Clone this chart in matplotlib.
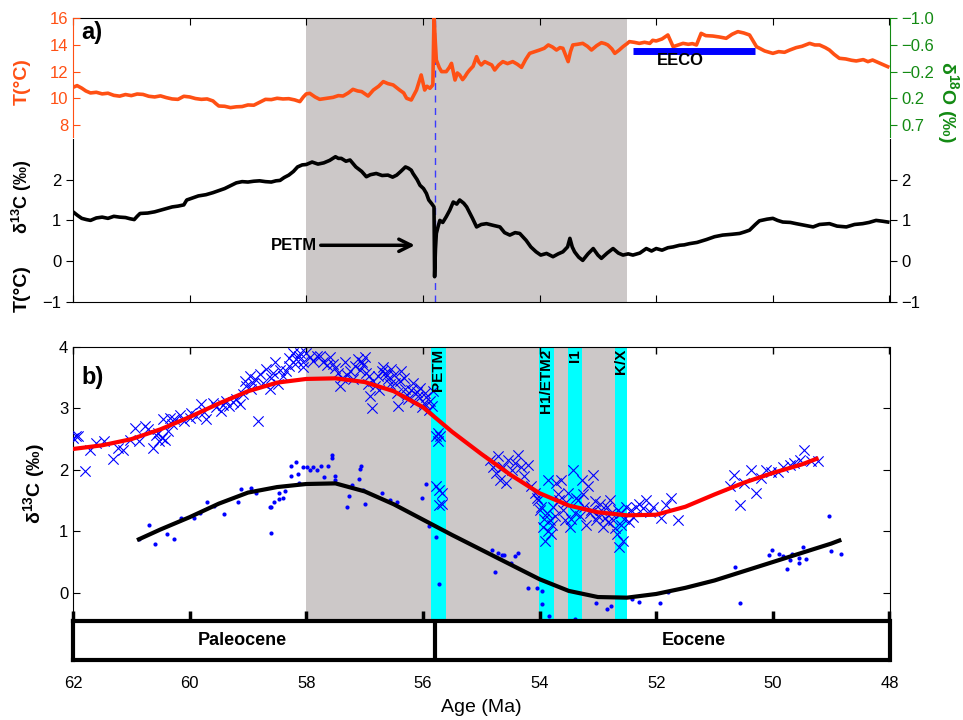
import numpy as np
import matplotlib
matplotlib.use("Agg")
import matplotlib.pyplot as plt

plt.rcParams['font.family'] = ['Liberation Sans', 'DejaVu Sans']
plt.rcParams['mathtext.fontset'] = 'custom'
plt.rcParams['mathtext.rm'] = 'Liberation Sans'
plt.rcParams['mathtext.bf'] = 'Liberation Sans:bold'

# ---------------- panel a data ----------------
# temperature (left, orange) / d18O (right, green)
t_age = [62.0, 61.93, 61.85, 61.78, 61.7, 61.6, 61.5, 61.4, 61.3, 61.2, 61.1, 61.0, 60.9, 60.8,
         60.7, 60.6, 60.5, 60.4, 60.3, 60.2, 60.1, 60.0, 59.9, 59.8, 59.7, 59.6, 59.55, 59.5,
         59.4, 59.3, 59.2, 59.1, 59.0, 58.9, 58.8, 58.7, 58.6, 58.5, 58.4, 58.3, 58.2, 58.11,
         58.05, 58.0, 57.94, 57.85, 57.77, 57.65, 57.54, 57.45, 57.37, 57.28, 57.2, 57.12,
         57.05, 56.94, 56.85, 56.76, 56.68, 56.6, 56.51, 56.4, 56.33, 56.28, 56.2, 56.11,
         56.03, 55.97, 55.93, 55.88, 55.83, 55.81, 55.79, 55.77, 55.72, 55.68, 55.6, 55.55,
         55.51, 55.45, 55.41, 55.37, 55.32, 55.28, 55.24, 55.2, 55.14, 55.08, 55.04, 55.0,
         54.94, 54.88, 54.82, 54.77, 54.7, 54.63, 54.55, 54.46, 54.38, 54.31, 54.24, 54.17,
         54.08, 54.0, 53.92, 53.85, 53.78, 53.71, 53.65, 53.6, 53.51, 53.47, 53.43, 53.35,
         53.26, 53.18, 53.11, 53.02, 52.94, 52.88, 52.83, 52.76, 52.71, 52.64, 52.57, 52.5,
         52.46, 52.38, 52.29, 52.2, 52.11, 52.06, 52.0, 51.9, 51.8, 51.71, 51.62, 51.54,
         51.45, 51.38, 51.31, 51.23, 51.15, 51.03, 50.92, 50.8, 50.7, 50.6, 50.5, 50.4,
         50.28, 50.14, 50.0, 49.9, 49.8, 49.71, 49.6, 49.5, 49.37, 49.28, 49.2, 49.1, 49.03,
         48.95, 48.86, 48.75, 48.65, 48.57, 48.45, 48.37, 48.29, 48.15, 48.03]
t_val = [10.82, 10.95, 10.76, 10.55, 10.4, 10.45, 10.33, 10.38, 10.22, 10.16, 10.28, 10.2, 10.32, 10.29,
         10.15, 10.1, 10.18, 10.05, 9.95, 9.92, 10.15, 10.1, 9.98, 9.92, 9.95, 9.8, 9.6, 9.42,
         9.4, 9.3, 9.36, 9.38, 9.5, 9.48, 9.7, 9.92, 9.9, 10.0, 9.95, 9.97, 9.88, 9.75,
         10.1, 10.33, 10.37, 10.1, 9.92, 10.0, 10.07, 10.2, 10.17, 10.4, 10.67, 10.55,
         10.5, 10.17, 10.62, 10.9, 11.25, 11.1, 11.0, 10.62, 10.4, 10.0, 9.87, 10.62,
         11.75, 10.62, 10.9, 10.75, 11.0, 16.2, 14.4, 12.87, 12.3, 12.0, 12.0, 12.3,
         12.62, 11.37, 11.9, 11.75, 11.4, 11.62, 11.9, 12.12, 12.4, 13.12, 12.7, 12.5,
         12.75, 12.62, 12.5, 12.12, 12.5, 12.75, 12.6, 12.75, 12.55, 12.32, 12.9, 13.37,
         13.5, 13.62, 13.75, 14.0, 13.85, 13.62, 13.8, 13.75, 12.75, 13.5, 14.0, 14.05,
         14.12, 13.9, 13.62, 13.95, 14.17, 14.1, 14.0, 13.7, 13.37, 13.6, 13.87, 14.1,
         14.25, 14.2, 14.12, 14.2, 14.12, 14.35, 14.3, 14.45, 14.75, 13.87, 14.0, 14.12,
         14.05, 14.1, 14.0, 14.87, 14.7, 14.67, 14.6, 14.5, 14.8, 15.0, 14.9, 14.75,
         13.87, 13.55, 13.37, 13.5, 13.45, 13.62, 13.8, 13.9, 14.12, 14.0, 14.0, 13.8, 13.62,
         13.3, 13.0, 12.95, 12.85, 12.8, 12.9, 12.75, 12.87, 12.6, 12.37]

# benthic d13C (black)
c_age = [62.0, 61.92, 61.85, 61.77, 61.7, 61.6, 61.5, 61.4, 61.3, 61.2, 61.1, 61.02, 60.95, 60.9,
         60.85, 60.72, 60.6, 60.5, 60.4, 60.3, 60.2, 60.1, 60.05, 59.95, 59.85, 59.72, 59.6,
         59.5, 59.4, 59.3, 59.2, 59.1, 59.0, 58.9, 58.8, 58.7, 58.6, 58.52, 58.45, 58.38, 58.3,
         58.22, 58.15, 58.07, 58.0, 57.9, 57.8, 57.7, 57.6, 57.5, 57.45, 57.4, 57.32, 57.25,
         57.15, 57.05, 56.97, 56.9, 56.8, 56.7, 56.6, 56.52, 56.45, 56.38, 56.3, 56.25, 56.2,
         56.17, 56.1, 56.05, 55.99, 55.94, 55.9, 55.85, 55.81, 55.8, 55.785, 55.77, 55.74,
         55.71, 55.66, 55.6, 55.54, 55.48, 55.42, 55.37, 55.3, 55.25, 55.15, 55.08, 55.0,
         54.91, 54.8, 54.68, 54.6, 54.51, 54.42, 54.34, 54.23, 54.15, 54.06, 53.98, 53.88,
         53.77, 53.68, 53.6, 53.52, 53.48, 53.44, 53.4, 53.33, 53.26, 53.17, 53.08, 53.0,
         52.94, 52.84, 52.74, 52.65, 52.57, 52.48, 52.4, 52.28, 52.17, 52.08, 52.0, 51.9,
         51.8, 51.71, 51.6, 51.52, 51.43, 51.3, 51.14, 51.0, 50.86, 50.7, 50.57, 50.48, 50.4,
         50.3, 50.23, 50.1, 50.0, 49.92, 49.83, 49.7, 49.6, 49.45, 49.31, 49.2, 49.03, 48.9,
         48.74, 48.6, 48.46, 48.35, 48.23, 48.12, 48.03]
c_val = [1.21, 1.12, 1.05, 1.02, 1.0, 1.06, 1.08, 1.05, 1.1, 1.08, 1.07, 1.04, 1.02, 1.1,
         1.17, 1.18, 1.21, 1.25, 1.29, 1.33, 1.35, 1.38, 1.5, 1.55, 1.6, 1.63, 1.68,
         1.73, 1.78, 1.85, 1.92, 1.95, 1.94, 1.96, 1.97, 1.95, 1.94, 1.97, 1.98, 2.05, 2.11,
         2.2, 2.31, 2.36, 2.37, 2.43, 2.38, 2.41, 2.47, 2.56, 2.52, 2.52, 2.45, 2.48,
         2.31, 2.2, 2.07, 2.12, 2.15, 2.1, 2.11, 2.06, 2.11, 2.2, 2.31, 2.28, 2.23,
         2.15, 2.0, 1.86, 1.78, 1.66, 1.5, 1.41, 1.33, -0.38, 0.3, 0.68, 0.85,
         1.0, 0.95, 1.09, 1.25, 1.45, 1.4, 1.5, 1.42, 1.33, 1.05, 0.84, 0.9,
         0.92, 0.88, 0.84, 0.7, 0.64, 0.7, 0.68, 0.51, 0.35, 0.23, 0.15, 0.19,
         0.11, 0.18, 0.23, 0.35, 0.56, 0.35, 0.23, 0.1, 0.02, 0.18, 0.31, 0.15,
         0.07, 0.2, 0.31, 0.2, 0.15, 0.18, 0.15, 0.2, 0.31, 0.25, 0.31, 0.27,
         0.33, 0.35, 0.39, 0.4, 0.43, 0.46, 0.53, 0.6, 0.64, 0.66, 0.68, 0.72, 0.76,
         0.9, 0.99, 1.03, 1.05, 1.0, 0.96, 0.95, 0.92, 0.88, 0.84, 0.9, 0.92, 0.86,
         0.84, 0.9, 0.92, 0.95, 1.0, 0.98, 0.96]

a_ticks_T = [8, 10, 12, 14, 16]
a_ticks_O = ['0.7', '0.2', '\u22120.2', '\u22120.6', '\u22121.0']
a_ticks_C = [-1, 0, 1, 2]

# ---------------- panel b data ----------------
# crosses (upper record)
x_age = [62.0, 61.95, 61.91, 61.80, 61.71, 61.60, 61.46, 61.31, 61.23, 61.14, 61.03, 60.94, 60.86,
         60.77, 60.72, 60.63, 60.57, 60.55, 60.52, 60.48, 60.46, 60.43, 60.37, 60.34, 60.30, 60.26,
         60.17, 60.09, 60.0, 59.97, 59.89, 59.80, 59.75, 59.72, 59.60, 59.55, 59.46, 59.42, 59.37,
         59.32, 59.25, 59.20, 59.14, 59.09, 59.05, 59.03, 58.97, 58.95, 58.92, 58.88, 58.83, 58.80,
         58.74, 58.69, 58.63, 58.60, 58.57, 58.54, 58.49, 58.45, 58.40, 58.34, 58.30, 58.29, 58.23,
         58.20, 58.17, 58.12, 58.10, 58.06, 58.05, 58.00, 57.94, 57.88, 57.82, 57.76, 57.71, 57.65,
         57.60, 57.54, 57.50, 57.45, 57.42, 57.38, 57.34, 57.30, 57.25, 57.20, 57.17, 57.11, 57.08,
         57.05, 57.02, 56.99, 56.97, 56.94, 56.93, 56.91, 56.88, 56.85, 56.82, 56.77, 56.75, 56.71,
         56.68, 56.65, 56.62, 56.60, 56.56, 56.54, 56.50, 56.48, 56.45, 56.42, 56.40, 56.37, 56.33,
         56.31, 56.28, 56.25, 56.20, 56.17, 56.14, 56.11, 56.08, 56.05, 56.02, 55.99, 55.97, 55.94,
         55.90, 55.88, 55.85, 55.83, 55.77, 55.75, 55.74, 55.71, 55.77, 55.73, 55.68, 55.72, 55.68,
         54.85, 54.80, 54.74, 54.71, 54.68, 54.62, 54.57, 54.54, 54.48, 54.42, 54.37, 54.31, 54.26,
         54.20, 54.14, 54.08, 54.05, 54.02, 53.99, 53.97, 53.94, 53.92, 53.91, 53.88, 53.86, 53.85,
         53.82, 53.80, 53.78, 53.77, 53.74, 53.71, 53.68, 53.66, 53.63, 53.60, 53.57, 53.54, 53.51,
         53.48, 53.46, 53.43, 53.40, 53.37, 53.34, 53.31, 53.28, 53.25, 53.23, 53.20, 53.17, 53.14,
         53.11, 53.08, 53.05, 53.03, 53.00, 52.97, 52.94, 52.91, 52.88, 52.85, 52.82, 52.80, 52.77,
         52.74, 52.71, 52.68, 52.66, 52.63, 52.61, 52.60, 52.57, 52.55, 52.51, 52.47, 52.43, 52.40,
         52.34, 52.29, 52.22, 52.17, 52.10, 52.06, 51.91, 51.83, 51.74, 51.63,
         50.74, 50.66, 50.57, 50.49, 50.37, 50.29, 50.20, 50.11, 50.03, 49.91, 49.83, 49.71, 49.63,
         49.54, 49.46, 49.34, 49.23]
x_val = [2.52, 2.55, 2.55, 1.98, 2.33, 2.44, 2.47, 2.18, 2.36, 2.33, 2.49, 2.68, 2.47,
         2.71, 2.66, 2.36, 2.57, 2.60, 2.47, 2.52, 2.82, 2.49, 2.63, 2.85, 2.75, 2.82,
         2.90, 2.79, 2.85, 2.93, 2.87, 3.07, 2.95, 2.82, 3.09, 3.02, 2.96, 3.05, 3.12,
         3.04, 3.10, 3.15, 3.07, 3.23, 3.45, 3.37, 3.53, 3.32, 3.42, 3.48, 2.79, 3.56,
         3.42, 3.64, 3.31, 3.50, 3.58, 3.75, 3.39, 3.62, 3.53, 3.61, 3.82, 3.69, 3.91,
         3.72, 3.80, 3.86, 3.90, 3.75, 3.68, 3.91, 3.83, 3.78, 3.86, 3.85, 3.75, 3.70,
         3.83, 3.72, 3.66, 3.58, 3.37, 3.50, 3.75, 3.55, 3.61, 3.48, 3.69, 3.80, 3.62,
         3.75, 3.70, 3.83, 3.58, 3.39, 3.52, 3.20, 3.01, 3.45, 3.37, 3.53, 3.30, 3.61,
         3.68, 3.58, 3.55, 3.48, 3.40, 3.64, 3.55, 3.42, 3.25, 3.04, 3.45, 3.61, 3.50,
         3.31, 3.22, 3.15, 3.30, 3.42, 3.10, 3.26, 3.20, 3.34, 3.02, 3.09, 3.25, 3.18,
         2.98, 3.12, 3.04, 3.28, 2.55, 2.60, 2.47, 2.55, 1.73, 1.68, 1.62, 1.43, 1.45,
         2.16, 2.05, 1.95, 2.22, 1.84, 2.05, 1.78, 2.16, 2.00, 2.11, 2.25, 2.05, 1.90,
         2.08, 1.73, 1.62, 1.55, 1.51, 1.35, 1.40, 1.07, 1.20, 0.85, 1.29, 1.00, 1.84,
         1.18, 0.96, 1.10, 1.40, 1.25, 1.78, 1.60, 1.51, 1.84, 1.35, 1.18, 1.48, 1.62,
         1.07, 1.20, 2.00, 1.29, 1.55, 1.51, 1.25, 1.84, 1.60, 1.40, 1.10, 1.73, 1.30,
         1.34, 1.92, 1.50, 1.18, 1.25, 1.45, 1.35, 1.07, 1.22, 1.40, 1.15, 1.51, 1.30,
         1.18, 1.05, 0.96, 1.35, 0.74, 1.10, 1.29, 0.85, 1.20, 1.40, 1.15, 1.34, 1.23,
         1.40, 1.45, 1.38, 1.51, 1.32, 1.40, 1.21, 1.43, 1.54, 1.18,
         1.73, 1.92, 1.43, 1.78, 2.00, 1.62, 1.86, 2.00, 1.97, 1.97, 2.05, 2.08, 2.11,
         2.16, 2.33, 2.14, 2.14]

# dots (lower record)
d_age = [60.87, 60.70, 60.60, 60.39, 60.27, 60.14, 59.93, 59.82, 59.71, 59.58, 59.41, 59.17,
         59.12, 58.94, 58.87, 58.63, 58.61, 58.60, 58.56, 58.47, 58.46, 58.40, 58.36, 58.27,
         58.27, 58.17, 58.14, 58.12, 58.06, 57.99, 57.93, 57.88, 57.82, 57.74, 57.69, 57.63,
         57.56, 57.56, 57.50, 57.50, 57.31, 57.26, 57.21, 57.09, 57.08, 57.07, 57.02, 56.99,
         56.70, 56.56, 56.45, 56.01, 55.94, 55.90, 55.78, 55.72, 54.81, 54.77, 54.72, 54.65,
         54.61, 54.49, 54.42, 54.37, 54.20, 54.04, 53.96, 53.96, 53.84, 53.39, 53.03, 52.85,
         52.77, 52.41, 52.30, 51.93, 51.80, 50.65, 50.57, 50.06, 50.01, 49.89, 49.82, 49.75,
         49.71, 49.67, 49.55, 49.55, 49.49, 49.43, 49.04, 49.00, 48.84]
d_val = [0.87, 1.10, 0.80, 0.95, 0.87, 1.21, 1.22, 1.29, 1.48, 1.41, 1.28, 1.48,
         1.69, 1.71, 1.63, 1.39, 1.40, 0.98, 1.47, 1.63, 1.52, 1.55, 1.66, 2.07,
         1.90, 2.13, 1.93, 1.78, 2.04, 2.05, 2.00, 2.04, 1.99, 2.07, 1.89, 2.07,
         2.24, 2.20, 1.90, 1.84, 1.40, 1.58, 1.75, 1.85, 2.01, 2.07, 1.67, 1.45,
         1.63, 1.51, 1.48, 1.55, 1.77, 1.08, 0.91, 0.15, 0.70, 0.34, 0.65, 0.62,
         0.61, 0.48, 0.60, 0.65, 0.08, 0.08, 0.03, -0.19, -0.38, -0.43, -0.16, -0.27,
         -0.21, -0.11, -0.15, -0.16, 0.01, 0.42, -0.16, 0.62, 0.69, 0.63, 0.60, 0.39,
         0.53, 0.63, 0.57, 0.49, 0.74, 0.55, 1.25, 0.68, 0.63]

# smooth fits
red_age = [62, 61.5, 61, 60.5, 60, 59.5, 59, 58.5, 58, 57.5, 57, 56.5, 56, 55.5, 55, 54.5,
           54, 53.5, 53, 52.5, 52, 51.5, 51, 50.5, 50, 49.5, 49.25]
red_val = [2.34, 2.40, 2.50, 2.66, 2.86, 3.08, 3.28, 3.42, 3.48, 3.49, 3.43, 3.28, 3.02, 2.62,
           2.26, 1.92, 1.62, 1.42, 1.31, 1.26, 1.27, 1.40, 1.60, 1.79, 1.95, 2.09, 2.18]
blk_age = [60.87, 60.5, 60, 59.5, 59, 58.5, 58, 57.5, 57, 56.5, 56, 55.5, 55, 54.5, 54, 53.5,
           53, 52.5, 52, 51.5, 51, 50.5, 50, 49.5, 49, 48.86]
blk_val = [0.87, 1.03, 1.23, 1.45, 1.63, 1.72, 1.77, 1.78, 1.65, 1.44, 1.19, 0.94, 0.70, 0.46,
           0.22, 0.03, -0.07, -0.08, -0.02, 0.08, 0.20, 0.35, 0.50, 0.65, 0.80, 0.85]

# events
bands = [(55.87, 55.61, 'PETM'), (54.01, 53.76, 'H1/ETM2'), (53.51, 53.28, 'I1'), (52.71, 52.5, 'K/X')]
epochs = [(62, 55.8, 'Paleocene', 59.1), (55.8, 48, 'Eocene', 51.35)]
age_ticks = [62, 60, 58, 56, 54, 52, 50, 48]

gray = '#ccc8c8'
orange = '#ff5014'
green = '#138a13'
d13c_label = '\u03b4$^{\\mathbf{13}}$C (\u2030)'
d18o_label = '\u03b4$^{\\mathbf{18}}$O (\u2030)'

W, H = 963, 720
def box(x0, y0, x1, y1):
    return [x0 / W, 1 - y1 / H, (x1 - x0) / W, (y1 - y0) / H]

fig = plt.figure(figsize=(9.63, 7.2), dpi=100)

# ---------------- panel a ----------------
ax = fig.add_axes(box(73, 18.3, 889.5, 302))
axT = ax.twinx()
axO = ax.twinx()

ax.set_xlim(62, 48)
ax.set_ylim(-1, 5.953)
ax.axvspan(58, 52.5, color=gray, zorder=0, lw=0)
ax.axvline(55.8, color='#3a3aff', ls=(0, (5, 4)), lw=1)
ax.plot(c_age, c_val, color='k', lw=2.6)
ax.annotate('', xy=(56.09, 0.39), xytext=(57.8, 0.39),
            arrowprops=dict(arrowstyle='->', lw=2.5, color='k', mutation_scale=22))
ax.text(57.82, 0.39, 'PETM', ha='right', va='center', fontsize=12, fontweight='bold')
ax.text(61.85, 5.6, 'a)', fontsize=17, fontweight='bold', va='center')

ax.set_xticks(age_ticks)
ax.tick_params(axis='x', direction='in', top=True, bottom=True, labelbottom=False, length=5)
ax.set_yticks(a_ticks_C)
ax.tick_params(axis='y', left=True, right=True, labelleft=True, labelright=True,
               direction='out', labelsize=12, length=5)
ax.spines['left'].set_bounds(-1, 3)
ax.spines['right'].set_bounds(-1, 3)

axT.set_ylim(16 - 283.7 / 13.33, 16)
axT.plot(t_age, t_val, color=orange, lw=2.6)
axT.plot([52.4, 50.31], [13.58, 13.58], color='#0000ff', lw=5, solid_capstyle='butt')
axT.text(51.58, 12.8, 'EECO', ha='center', va='center', fontsize=12, fontweight='bold')
axT.yaxis.tick_left()
axT.set_yticks(a_ticks_T)
axT.tick_params(axis='y', colors=orange, direction='in', labelsize=12, length=5)
for s in ['top', 'bottom', 'right']:
    axT.spines[s].set_visible(False)
axT.spines['left'].set_color(orange)
axT.spines['left'].set_bounds(7.12, 16)

axO.set_ylim(axT.get_ylim())
axO.set_yticks(a_ticks_T)
axO.set_yticklabels(a_ticks_O)
axO.tick_params(axis='y', colors=green, direction='out', labelsize=12, length=5)
for s in ['top', 'bottom', 'left']:
    axO.spines[s].set_visible(False)
axO.spines['right'].set_color(green)
axO.spines['right'].set_bounds(7.12, 16)

fig.text(22 / W, 1 - 82 / H, 'T(\u00b0C)', rotation=90, color=orange, fontsize=14,
         fontweight='bold', ha='center', va='center')
fig.text(22 / W, 1 - 197 / H, d13c_label, rotation=90, color='k',
         fontsize=13, fontweight='bold', ha='center', va='center')
fig.text(22 / W, 1 - 289 / H, 'T(\u00b0C)', rotation=90, color='k', fontsize=14,
         fontweight='bold', ha='center', va='center')
fig.text(947 / W, 1 - 102 / H, d18o_label, rotation=270, color=green,
         fontsize=14, fontweight='bold', ha='center', va='center')

# ---------------- panel b ----------------
bx = fig.add_axes(box(73, 347, 889.5, 621))
bx.set_xlim(62, 48)
bx.set_ylim(-0.46, 4.0)
bx.axvspan(58, 52.5, color=gray, zorder=0, lw=0)
for a0, a1, lab in bands:
    bx.axvspan(a0, a1, color='#00ffff', zorder=1, lw=0)
    bx.text((a0 + a1) / 2, 3.97, lab, rotation=90, ha='center', va='top',
            fontsize=11, fontweight='bold', zorder=5)
bx.scatter(x_age, x_val, marker='x', s=55, color='#0000ff', linewidths=0.8, zorder=3)
bx.scatter(d_age, d_val, marker='o', s=9, color='#0000ff', linewidths=0, zorder=3)
bx.plot(red_age, red_val, color='#ff0000', lw=3, zorder=4)
bx.plot(blk_age, blk_val, color='k', lw=3, zorder=4)
bx.text(61.85, 3.5, 'b)', fontsize=17, fontweight='bold', va='center')

bx.set_xticks(age_ticks)
bx.tick_params(axis='x', direction='in', top=True, bottom=False, labelbottom=False,
               length=5, width=1)
bx.set_yticks([0, 1, 2, 3, 4])
bx.tick_params(axis='y', direction='in', left=True, right=True, labelsize=12, length=5)
bx.spines['bottom'].set_visible(False)
bx.set_ylabel(d13c_label, fontsize=14, fontweight='bold', labelpad=8)

# epoch bar, its top ticks reach up into panel b
ex = fig.add_axes(box(73, 621, 889.5, 660))
ex.set_zorder(5)
ex.set_xlim(62, 48)
ex.set_ylim(0, 1)
for a0, a1, lab, xc in epochs:
    ex.text(xc, 0.5, lab, ha='center', va='center', fontsize=13, fontweight='bold')
ex.axvline(55.8, color='k', lw=3)
for s in ex.spines.values():
    s.set_linewidth(3)
ex.set_yticks([])
ex.set_xticks(age_ticks)
ex.xaxis.set_ticks_position('top')
ex.tick_params(axis='x', which='major', direction='out', length=7, width=2.5, color='k')
ex.tick_params(axis='x', labeltop=False, labelbottom=True, pad=4.5, labelsize=12)
ex.set_xlabel('Age (Ma)', fontsize=14, labelpad=6)
ex.xaxis.set_label_position('bottom')

fig.savefig('out.png', dpi=100)
